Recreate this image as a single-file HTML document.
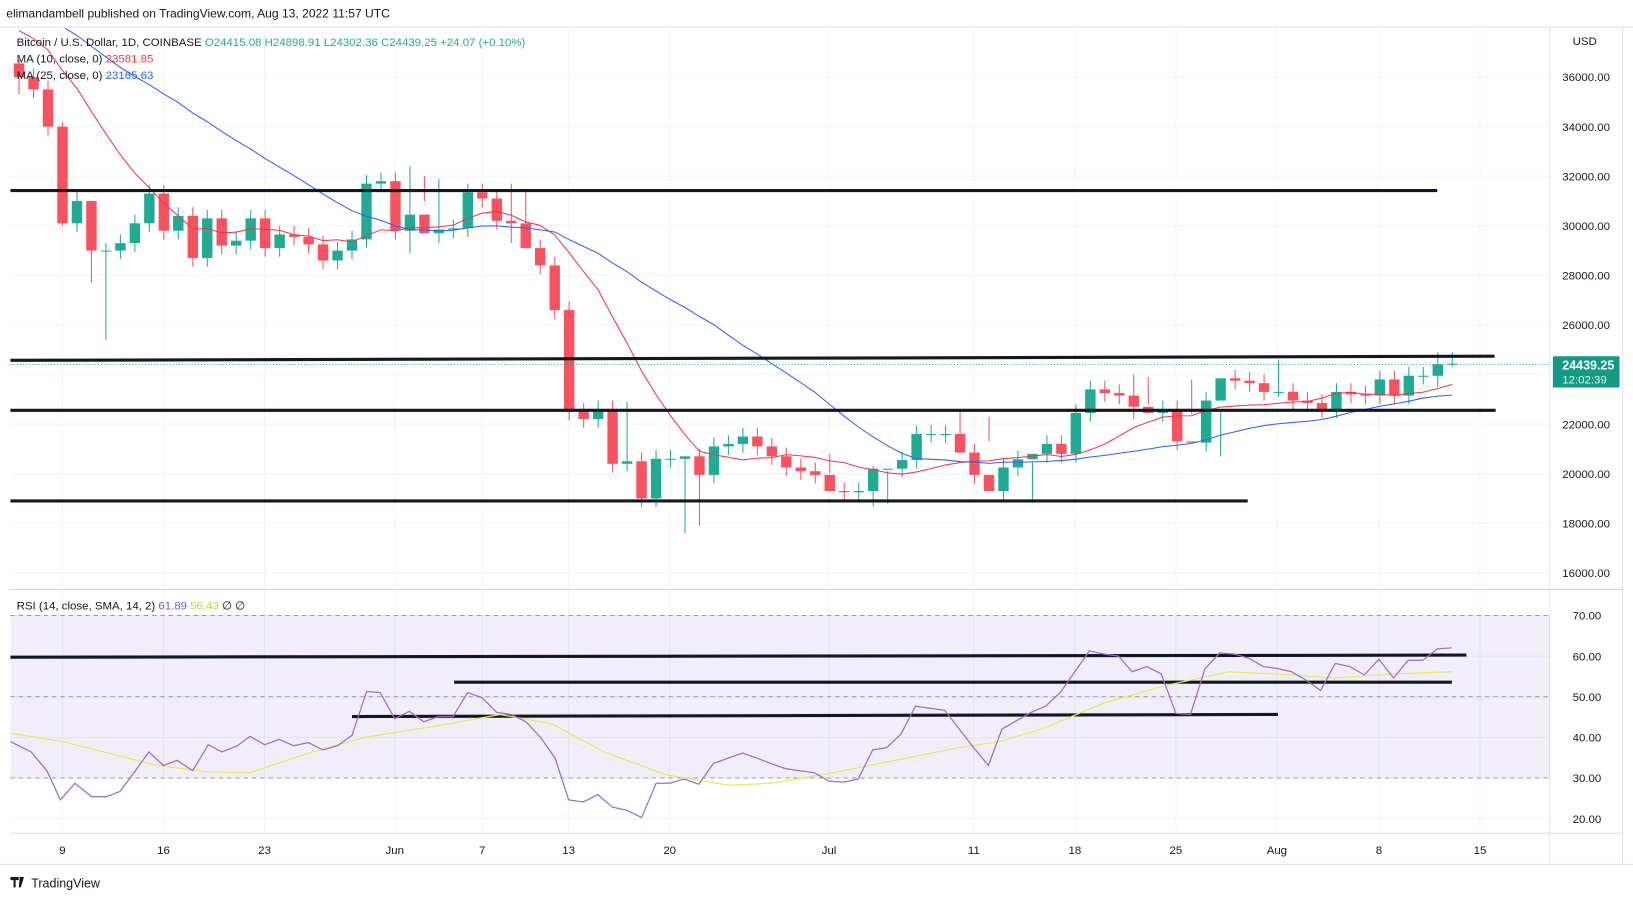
<!DOCTYPE html>
<html><head><meta charset="utf-8"><style>
body{margin:0;background:#fff;font-family:"Liberation Sans",sans-serif;}
svg{display:block}
text{font-family:"Liberation Sans",sans-serif;}
</style></head><body>
<svg id="s" width="1633" height="901" xmlns="http://www.w3.org/2000/svg">
<rect width="1633" height="901" fill="#fff"/>
<g transform="scale(1.0415)">
<text x="6" y="17" font-size="11.6" fill="#131722">elimandambell published on TradingView.com, Aug 13, 2022 11:57 UTC</text>
<line x1="0" y1="26" x2="1568" y2="26" stroke="#e0e3eb"/>
<g id="grid" stroke="#f0f3fa" stroke-width="1"></g>
<line x1="1488" y1="26" x2="1488" y2="830" stroke="#e0e3eb"/>
<line x1="1558" y1="26" x2="1558" y2="830" stroke="#e0e3eb"/>
<line x1="10" y1="566" x2="1558" y2="566" stroke="#d1d4dc"/>
<line x1="10" y1="800" x2="1558" y2="800" stroke="#e0e3eb"/>
<line x1="0" y1="830" x2="1568" y2="830" stroke="#e0e3eb"/>
<rect x="10" y="591" width="1478" height="156" fill="#7e57c2" fill-opacity="0.1"/>
<g stroke="#9598a1" stroke-dasharray="4,4" stroke-width="1">
<line x1="10" y1="591" x2="1488" y2="591"/><line x1="10" y1="669" x2="1488" y2="669"/><line x1="10" y1="747" x2="1488" y2="747"/></g>
<g id="g"></g>
<text x="1510" y="43" font-size="11" fill="#131722">USD</text>
<g font-size="11" fill="#131722" id="ax"></g>
<line x1="10" y1="350" x2="1488" y2="350" stroke="#22ab94" stroke-dasharray="1,2"/>
<rect x="1491" y="342" width="64" height="30" rx="1" fill="#129a82"/>
<text x="1500" y="355" font-size="12" font-weight="bold" fill="#fff">24439.25</text>
<text x="1500" y="368" font-size="11" fill="#e6f5f2">12:02:39</text>
<text x="16" y="44" font-size="11" fill="#131722">Bitcoin / U.S. Dollar, 1D, COINBASE <tspan fill="#22ab94">O24415.08 H24898.91 L24302.36 C24439.25 +24.07 (+0.10%)</tspan></text>
<text x="16" y="60" font-size="11" fill="#131722">MA (10, close, 0) <tspan fill="#f23645">23581.85</tspan></text>
<text x="16" y="76" font-size="11" fill="#131722">MA (25, close, 0) <tspan fill="#2962ff">23165.63</tspan></text>
<text x="16" y="585" font-size="11" fill="#131722">RSI (14, close, SMA, 14, 2) <tspan fill="#7e57c2">61.89</tspan> <tspan fill="#c9d23a">56.43</tspan> ∅ ∅</text>
<text x="30" y="852" font-size="12" fill="#131722">TradingView</text>
<path d="M10 842h8v3h-3v7h-2v-7h-3z M19 842h4l-3 10h-2z" fill="#131722"/>
</g>
</svg>
<script>
const NS="http://www.w3.org/2000/svg",g=document.getElementById('g'),ax=document.getElementById('ax'),gr=document.getElementById('grid');
function el(t,a,p){const e=document.createElementNS(NS,t);for(const k in a)e.setAttribute(k,a[k]);(p||g).appendChild(e);return e;}
const Y=p=>74+(36000-p)*0.0238, X=d=>60+13.9*d;
const C=[36000,35500,34000,30100,31000,29000,29000,29300,30100,31300,29800,30400,28700,30300,29200,29400,30300,29100,29650,29550,29250,28600,29000,29450,31700,31800,29800,30450,29700,29850,29900,31350,31100,30200,30100,29100,28400,26600,22500,22200,22600,20400,20500,19000,20600,20600,20700,19950,21100,21200,21500,21100,20700,20250,20100,19950,19300,19250,19300,20200,20200,20550,21600,21600,21600,20850,19950,19300,20250,20580,20800,21200,20800,22450,23400,23250,23150,22700,22450,22600,21300,21250,22950,23850,23750,23650,23300,23300,22950,22850,22600,23300,23200,23150,23800,23150,23950,23950,24415,24439];
const O0=36550;
const wick={"-3":[36700,35300],"0":[34200,30000],"2":[29200,27700],"3":[29300,25400],"24":[32400,28900],"25":[32000,31000],"26":[31900,29300],"31":[31700,29300],"32":[31500,29200],"39":[22900,20100],"43":[20700,17600],"44":[21000,17900],"53":[20800,20000],"56":[20300,18700],"57":[20100,18800],"62":[22500,21000],"64":[22300,21300],"67":[20500,18900],"74":[24000,22200],"75":[23900,22800],"78":[23800,22400],"80":[22500,20700],"84":[24600,23100],"95":[24900,23500],"96":[24900,24300]};
const pre=[40500,40300,40100,40000,39800,39900,39700,39500,39400,39200,39000,39300,39100,38900,38700,38800,38600,38400,38200,38300,38000,37800,37500,37200];
const all=pre.concat(C);
for(let p=16000;p<=36000;p+=2000)el('line',{x1:10,x2:1488,y1:Y(p),y2:Y(p)},gr);
for(let r=20;r<=70;r+=10)el('line',{x1:10,x2:1488,y1:591+(70-r)*3.9,y2:591+(70-r)*3.9},gr);
const dates=[["9",60],["16",157],["23",254],["Jun",379],["7",463],["13",546],["20",643],["Jul",796],["11",935],["18",1032],["25",1129],["Aug",1226],["8",1324],["15",1421]];
dates.forEach(t=>el('line',{x1:t[1],x2:t[1],y1:27,y2:800},gr));
for(let i=0;i<C.length;i++){const d=i-3,o=i?C[i-1]:O0,c=C[i];const up=c>=o,col=up?"#22ab94":"#f7525f";
 const w=wick[d]||[Math.max(o,c)+350,Math.min(o,c)-350];const x=X(d);
 el('line',{x1:x,x2:x,y1:Y(w[0]),y2:Y(w[1]),stroke:col});
 const t=Y(Math.max(o,c)),b=Y(Math.min(o,c));el('rect',{x:x-5,y:t,width:10,height:Math.max(1,b-t),fill:col});}
const defs=el('defs',{});const cp=el('clipPath',{id:"cp"},defs);el('rect',{x:10,y:27,width:1478,height:538},cp);
function ma(n,col){let pts=[];for(let i=0;i<C.length;i++){const j=i+pre.length;let s=0;for(let k=0;k<n;k++)s+=all[j-k];pts.push(X(i-3).toFixed(1)+","+Y(s/n).toFixed(1));}
 el('polyline',{points:pts.join(' '),fill:"none",stroke:col,"stroke-width":1,"clip-path":"url(#cp)"});}
ma(10,"#f23645");ma(25,"#2962ff");
[[10,183,1380,183],[10,346,1435,342],[10,394,1436,394],[10,481,1198,481],[10,631,1408,629],[436,655,1394,655],[338,688,1227,686]].forEach(l=>el('line',{x1:l[0],y1:l[1],x2:l[2],y2:l[3],stroke:"#131722","stroke-width":3}));
const rsi="10,712 30,722 45,740 58,768 72,752 88,765 102,765 115,760 130,740 143,722 157,735 170,730 185,740 200,715 213,722 228,716 240,707 254,715 268,710 282,716 296,713 310,720 324,716 338,706 352,664 365,665 379,690 393,683 407,693 421,688 435,688 449,665 463,670 477,684 491,686 505,693 519,708 533,728 546,768 560,770 574,763 588,775 602,778 616,785 630,752 643,752 657,748 671,753 685,733 699,728 713,723 727,728 740,733 754,738 768,740 782,742 796,750 810,751 824,748 838,720 851,718 865,705 879,678 893,680 907,682 921,700 935,718 949,735 962,700 976,692 990,684 1004,678 1018,665 1032,645 1046,625 1060,628 1074,630 1087,645 1101,640 1115,647 1129,685 1143,686 1157,642 1171,627 1185,628 1199,632 1213,640 1227,642 1240,645 1254,653 1268,663 1282,637 1296,640 1310,648 1324,633 1338,651 1352,634 1366,634 1380,623 1394,622";
el('polyline',{points:"10,704 60,712 100,722 150,735 200,741 240,742 300,722 350,708 420,697 480,686 530,695 580,722 640,744 700,754 740,752 800,742 860,730 920,718 960,712 1000,700 1060,675 1120,658 1180,645 1240,648 1280,651 1340,647 1394,645",fill:"none",stroke:"#e3ec5a","stroke-width":1.2});
el('polyline',{points:rsi,fill:"none",stroke:"#9c6bd0","stroke-width":1.2});
for(let p=16000;p<=36000;p+=2000){el('text',{x:1500,y:Y(p)+4},ax).textContent=p.toFixed(2);}
for(let r=20;r<=70;r+=10){el('text',{x:1510,y:591+(70-r)*3.9+4},ax).textContent=r.toFixed(2);}
dates.forEach(t=>{const e=el('text',{x:t[1],y:820,"text-anchor":"middle"},ax);e.textContent=t[0];});
</script>
</body></html>
